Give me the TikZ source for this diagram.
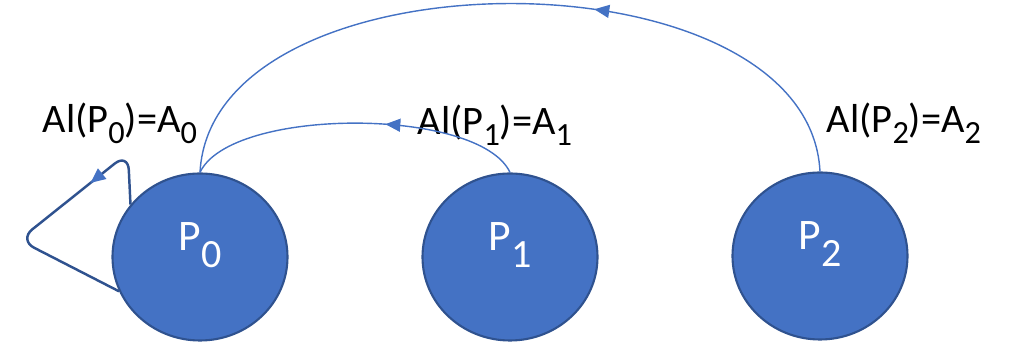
\documentclass[tikz,border=0pt]{standalone}
\usepackage{fontspec}
\setmainfont{Carlito}
\usepackage{tikz}
\usetikzlibrary{shapes.geometric, arrows.meta, positioning, calc, decorations.markings}
\definecolor{cBlue}{RGB}{68,114,196}
\definecolor{cDark}{RGB}{47,82,143}
\newcommand{\low}[1]{\raisebox{-0.27em}{\scalebox{0.8}{#1}}}
\newcommand{\idx}[1]{\raisebox{-0.38em}{\scalebox{0.92}{#1}}}
\tikzset{
	proc/.style    ={ellipse, minimum width=1.75cm, minimum height=1.67cm, draw=cDark, line width=0.6pt, fill=cBlue, text=white, inner sep=0pt, text depth=1.15em, font=\fontsize{12.4}{14}\selectfont},
	alloc/.style   ={anchor=base west, inner sep=0pt, font=\fontsize{11.5}{13}\selectfont},
	midarrow/.style={postaction={decorate, decoration={markings, mark=at position #1 with {\arrow[cBlue]{Triangle[length=0.15cm, width=0.13cm]}}}}},
	edge/.style    ={draw=cBlue, line width=0.4pt},
	selfloop/.style={draw=cDark, line width=0.7pt, rounded corners=0.17cm},
}
\begin{document}
\begin{tikzpicture}
	\useasboundingbox (0,0) rectangle (10.10,3.44);
	\node[proc] (p0) at (2.00,0.87) {P\idx{0}};
	\node[proc] (p1) at (5.10,0.87) {P\idx{1}};
	\node[proc] (p2) at (8.20,0.88) {P\idx{2}};
	% allocation labels
	\node[alloc] (a0) at (0.42,2.11) {Al(P\low{0})=A\low{0}};
	\node[alloc] (a1) at (4.17,2.09) {Al(P\low{1})=A\low{1}};
	\node[alloc] (a2) at (8.26,2.11) {Al(P\low{2})=A\low{2}};
	% requests
	\draw[edge, midarrow=0.41] (p1.north) to[out=115, in=65, looseness=0.6] (p0.north);
	\draw[edge, midarrow=0.39] (p2.north) to[out=93, in=87, looseness=0.93] (p0.north);
	\draw[selfloop, midarrow=0.31] (p0.143) -- (1.28,1.91) -- (0.19,1.04) -- (p0.203);
\end{tikzpicture}
\end{document}
